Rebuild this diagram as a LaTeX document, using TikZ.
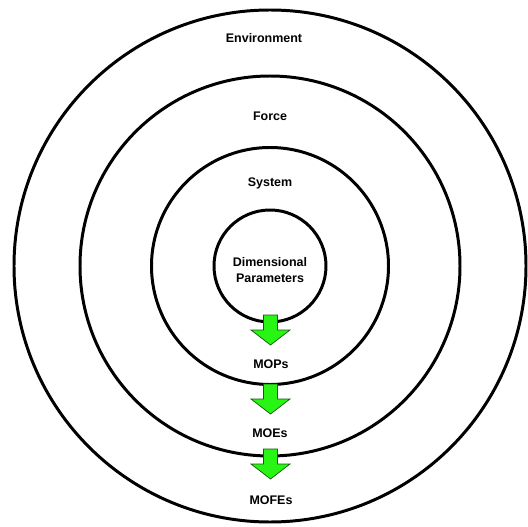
\documentclass[tikz,border=0pt]{standalone}
\usepackage{fontspec}
\setmainfont{Liberation Sans}
\usepackage{xcolor}
\usepackage{tikz}
\usetikzlibrary{positioning, calc}
\definecolor{arrowgreen}{RGB}{40,245,20}
\definecolor{arrowedge}{RGB}{20,90,10}
\tikzset{
    ring/.style={draw, line width=1.7pt},
    label/.style={font=\fontsize{7.1}{8.6}\selectfont\bfseries, align=center, inner sep=0pt},
    downarrow/.style={fill=arrowgreen, draw=arrowedge, line width=0.4pt}
}

\begin{document}
\begin{tikzpicture}[x=0.02cm, y=-0.02cm]
    \useasboundingbox (0,0) rectangle (528,527);
    \coordinate (c) at (270,266);
    % rings
    \draw[ring] (c) circle (256);
    \draw[ring] (c) circle (190);
    \draw[ring] (c) circle (118.5);
    \draw[ring] (c) circle (56);
    % labels
    \node[label] (env) at (264,38) {Environment};
    \node[label] (force) at (270,116) {Force};
    \node[label] (sys) at (270,183) {System};
    \node[label] (dim) at (270,270) {Dimensional\\Parameters};
    \node[label] (mops) at (271,364) {MOPs};
    \node[label] (moes) at (270,433) {MOEs};
    \node[label] (mofes) at (271,500) {MOFEs};
    % arrows between rings
    \foreach \t in {315,384,449}
        \filldraw[downarrow] (263.5,\t) -- (277.5,\t) -- (277.5,\t+15) -- (290,\t+15)
            -- (270.5,\t+30) -- (251,\t+15) -- (263.5,\t+15) -- cycle;
\end{tikzpicture}
\end{document}
